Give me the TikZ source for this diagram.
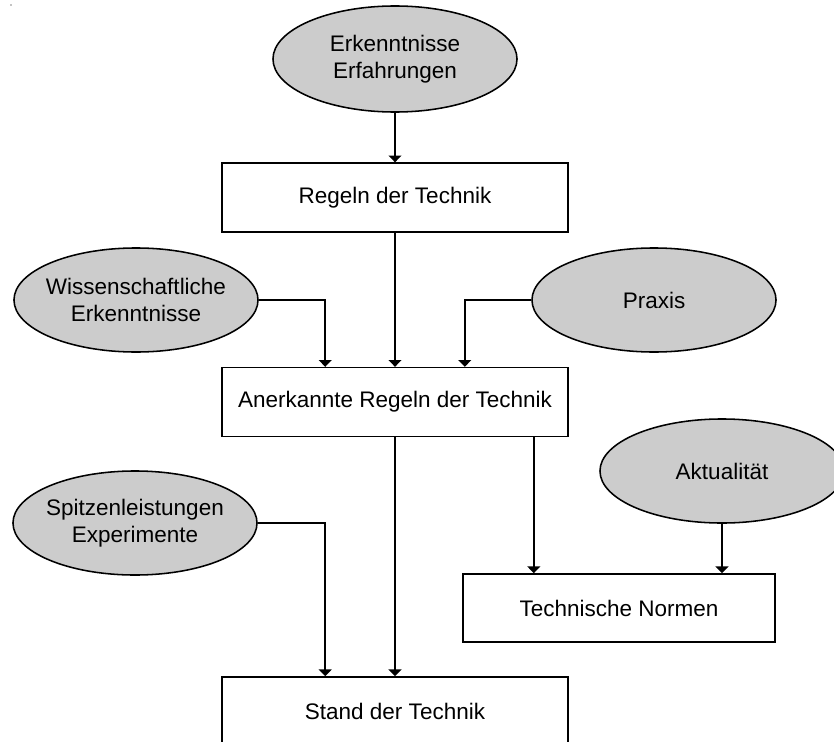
\documentclass[tikz,border=0pt]{standalone}
\usepackage{fontspec}
\setmainfont{Liberation Sans}
\usetikzlibrary{shapes.geometric,arrows.meta}
\definecolor{ovalgray}{RGB}{204,204,204}
\tikzset{
  oval/.style={ellipse, draw, fill=ovalgray, line width=1.1pt,
    minimum width=6.1cm, minimum height=2.6cm, inner xsep=-0.6cm, inner ysep=0pt, align=center},
  block/.style={rectangle, draw, fill=white, line width=1.1pt,
    minimum width=8.65cm, minimum height=1.72cm, align=center},
  flow/.style={line width=1.1pt, -{Triangle[width=0.32cm,length=0.17cm]}},
}

\begin{document}
\begin{tikzpicture}[x=0.025cm, y=-0.025cm, font=\fontsize{16}{19.5}\selectfont]
\useasboundingbox (0,0) rectangle (834,742);
\clip (0,0) rectangle (834,742);
\fill (11,5) circle[radius=0.5pt];

% inputs
\node[oval, minimum height=2.65cm] (erk) at (395,59) {Erkenntnisse\\Erfahrungen};
\node[oval] (wiss) at (136,300) {Wissenschaftliche\\Erkenntnisse};
\node[oval] (praxis) at (654,300) {Praxis};
\node[oval] (akt) at (722,471) {Aktualität};
\node[oval] (spitz) at (135,523) {Spitzenleistungen\\Experimente};

% levels
\node[block] (regeln) at (395,197.5) {Regeln der Technik};
\node[block] (anerk) at (395,402) {Anerkannte Regeln der Technik};
\node[block, minimum width=7.8cm, minimum height=1.7cm] (normen) at (619,608) {Technische Normen};
\node[block, minimum height=1.725cm] (stand) at (395,711.5) {Stand der Technik};

\draw[flow] (erk) -- (regeln);
\draw[flow] (regeln) -- (anerk);
\draw[flow] (wiss.east) -| ([xshift=2.6cm]anerk.north west);
\draw[flow] (praxis.west) -| ([xshift=-2.6cm]anerk.north east);
\draw[flow] ([xshift=-0.875cm]anerk.south east) coordinate (n1) -- (n1 |- normen.north);
\draw[flow] (akt.south) -- (akt.south |- normen.north);
\draw[flow] (anerk) -- (stand);
\draw[flow] (spitz.east) -| ([xshift=2.6cm]stand.north west);
\end{tikzpicture}
\end{document}
